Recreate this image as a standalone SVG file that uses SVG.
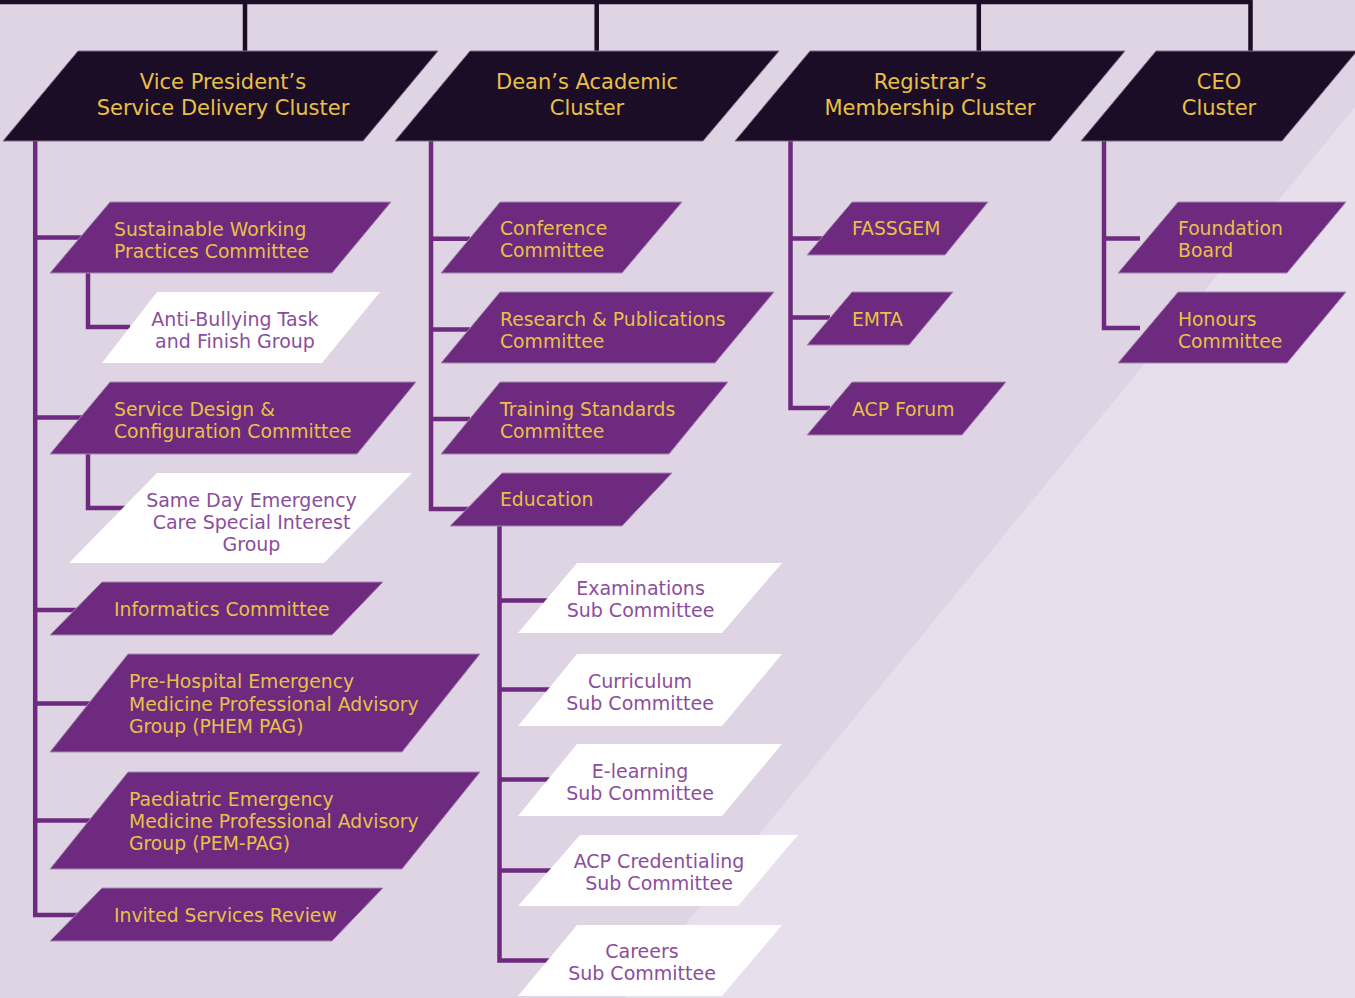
<svg xmlns="http://www.w3.org/2000/svg" width="1355" height="998" viewBox="0 0 1355 998">
  <style>
    .cluster { fill: #1b0d25; stroke: #7d6a88; stroke-width: 1; }
    .committee { fill: #6d2a7e; stroke: #a688b2; stroke-width: 1; }
    .subgroup { fill: #ffffff; }
    .link { fill: none; stroke: #6d2a7e; stroke-width: 4.5; stroke-linejoin: miter; }
    .trunk { fill: none; stroke: #1b0d25; stroke-width: 4.5; }
    text { font-family: "DejaVu Sans", "Liberation Sans", sans-serif; }
    .ct { fill: #e8c04a; font-size: 21px; text-anchor: middle; }
    .gt { fill: #e8c04a; font-size: 18.8px; }
    .wt { fill: #8a4e9c; font-size: 19px; text-anchor: middle; }
  </style>

  <!-- backdrop with lighter diagonal band -->
  <rect x="0" y="0" width="1355" height="998" fill="#dfd4e4"/>
  <polygon points="1355,107 625,998 1355,998" fill="#e7e0ec"/>

  <!-- connectors -->
  <g id="connectors">
    <path class="trunk" d="M0 2 H1250.5 V51 M245 2 V51 M596.7 2 V51 M978.8 2 V51"/>
    <!-- Vice President's cluster -->
    <path class="link" d="M35.2 141 V915 H110 M35.2 237.5 H120 M35.2 417.5 H120 M35.2 610 H110 M35.2 703.5 H130 M35.2 820.5 H130"/>
    <path class="link" d="M88 273 V327 H130 M88 454 V508 H130"/>
    <!-- Dean's cluster -->
    <path class="link" d="M431 141 V509 H470 M431 238.7 H470 M431 329.5 H470 M431 419 H470"/>
    <path class="link" d="M499.5 526 V960.5 H560 M499.5 600.5 H560 M499.5 689.5 H560 M499.5 779.5 H560 M499.5 870.5 H560"/>
    <!-- Registrar's cluster -->
    <path class="link" d="M790.5 141 V408 H830 M790.5 238.5 H830 M790.5 317.5 H830"/>
    <!-- CEO cluster -->
    <path class="link" d="M1104 141 V328 H1140 M1104 238.5 H1140"/>
  </g>

  <!-- top-level clusters -->
  <g id="vp-cluster">
    <polygon class="cluster" points="78,51 438,51 363,141 3,141"/>
    <text class="ct" x="223" y="89">Vice President’s</text>
    <text class="ct" x="223" y="115">Service Delivery Cluster</text>
  </g>
  <g id="dean-cluster">
    <polygon class="cluster" points="470,51 779,51 703,141 395,141"/>
    <text class="ct" x="587" y="89">Dean’s Academic</text>
    <text class="ct" x="587" y="115">Cluster</text>
  </g>
  <g id="registrar-cluster">
    <polygon class="cluster" points="810,51 1125,51 1050,141 735,141"/>
    <text class="ct" x="930" y="89">Registrar’s</text>
    <text class="ct" x="930" y="115">Membership Cluster</text>
  </g>
  <g id="ceo-cluster">
    <polygon class="cluster" points="1156,51 1357,51 1282,141 1081,141"/>
    <text class="ct" x="1219" y="89">CEO</text>
    <text class="ct" x="1219" y="115">Cluster</text>
  </g>

  <!-- Vice President's committees -->
  <g id="sustainable-working">
    <polygon class="committee" points="110,202 391,202 332,273 50,273"/>
    <text class="gt" x="114" y="235.5">Sustainable Working</text>
    <text class="gt" x="114" y="257.5">Practices Committee</text>
  </g>
  <g id="anti-bullying">
    <polygon class="subgroup" points="157,292 380,292 322,363 102,363"/>
    <text class="wt" x="235" y="326">Anti-Bullying Task</text>
    <text class="wt" x="235" y="348">and Finish Group</text>
  </g>
  <g id="service-design">
    <polygon class="committee" points="110,382 416,382 357,454 50,454"/>
    <text class="gt" x="114" y="416">Service Design &amp;</text>
    <text class="gt" x="114" y="438">Configuration Committee</text>
  </g>
  <g id="same-day-emergency">
    <polygon class="subgroup" points="157,473 412,473 324,563 69,563"/>
    <text class="wt" x="251.5" y="507">Same Day Emergency</text>
    <text class="wt" x="251.5" y="529">Care Special Interest</text>
    <text class="wt" x="251.5" y="551">Group</text>
  </g>
  <g id="informatics">
    <polygon class="committee" points="102,582 383,582 332,635 50,635"/>
    <text class="gt" x="114" y="616">Informatics Committee</text>
  </g>
  <g id="phem-pag">
    <polygon class="committee" points="128,654 480,654 402,752 50,752"/>
    <text class="gt" x="129" y="688">Pre-Hospital Emergency</text>
    <text class="gt" x="129" y="710.5">Medicine Professional Advisory</text>
    <text class="gt" x="129" y="733">Group (PHEM PAG)</text>
  </g>
  <g id="pem-pag">
    <polygon class="committee" points="128,772 480,772 402,869 50,869"/>
    <text class="gt" x="129" y="806">Paediatric Emergency</text>
    <text class="gt" x="129" y="828">Medicine Professional Advisory</text>
    <text class="gt" x="129" y="850">Group (PEM-PAG)</text>
  </g>
  <g id="invited-services">
    <polygon class="committee" points="102,888 383,888 332,941 50,941"/>
    <text class="gt" x="114" y="922">Invited Services Review</text>
  </g>

  <!-- Dean's committees -->
  <g id="conference">
    <polygon class="committee" points="500,202 682,202 622,273 441,273"/>
    <text class="gt" x="500" y="235">Conference</text>
    <text class="gt" x="500" y="257">Committee</text>
  </g>
  <g id="research-publications">
    <polygon class="committee" points="500,292 774,292 715,363 441,363"/>
    <text class="gt" x="500" y="326">Research &amp; Publications</text>
    <text class="gt" x="500" y="348">Committee</text>
  </g>
  <g id="training-standards">
    <polygon class="committee" points="500,382 728,382 669,454 441,454"/>
    <text class="gt" x="500" y="416">Training Standards</text>
    <text class="gt" x="500" y="438">Committee</text>
  </g>
  <g id="education">
    <polygon class="committee" points="502,473 672,473 622,526 450,526"/>
    <text class="gt" x="500" y="506">Education</text>
  </g>
  <g id="examinations">
    <polygon class="subgroup" points="577,563 782,563 722,633 518,633"/>
    <text class="wt" x="640.5" y="595">Examinations</text>
    <text class="wt" x="640.5" y="617">Sub Committee</text>
  </g>
  <g id="curriculum">
    <polygon class="subgroup" points="577,654 782,654 722,726 518,726"/>
    <text class="wt" x="640" y="688">Curriculum</text>
    <text class="wt" x="640" y="710">Sub Committee</text>
  </g>
  <g id="e-learning">
    <polygon class="subgroup" points="577,744 782,744 722,816 518,816"/>
    <text class="wt" x="640" y="778">E-learning</text>
    <text class="wt" x="640" y="800">Sub Committee</text>
  </g>
  <g id="acp-credentialing">
    <polygon class="subgroup" points="580,835 798,835 738,906 518,906"/>
    <text class="wt" x="659" y="868">ACP Credentialing</text>
    <text class="wt" x="659" y="890">Sub Committee</text>
  </g>
  <g id="careers">
    <polygon class="subgroup" points="577,925 782,925 722,996 518,996"/>
    <text class="wt" x="642" y="958">Careers</text>
    <text class="wt" x="642" y="980">Sub Committee</text>
  </g>

  <!-- Registrar's committees -->
  <g id="fassgem">
    <polygon class="committee" points="852,202 988,202 945,255 807,255"/>
    <text class="gt" x="852" y="235">FASSGEM</text>
  </g>
  <g id="emta">
    <polygon class="committee" points="852,292 953,292 909,345 807,345"/>
    <text class="gt" x="852" y="326">EMTA</text>
  </g>
  <g id="acp-forum">
    <polygon class="committee" points="852,382 1006,382 962,435 807,435"/>
    <text class="gt" x="852" y="416">ACP Forum</text>
  </g>

  <!-- CEO committees -->
  <g id="foundation-board">
    <polygon class="committee" points="1178,202 1346,202 1287,273 1118,273"/>
    <text class="gt" x="1178" y="235">Foundation</text>
    <text class="gt" x="1178" y="257">Board</text>
  </g>
  <g id="honours">
    <polygon class="committee" points="1178,292 1346,292 1287,363 1118,363"/>
    <text class="gt" x="1178" y="326">Honours</text>
    <text class="gt" x="1178" y="348">Committee</text>
  </g>
</svg>
